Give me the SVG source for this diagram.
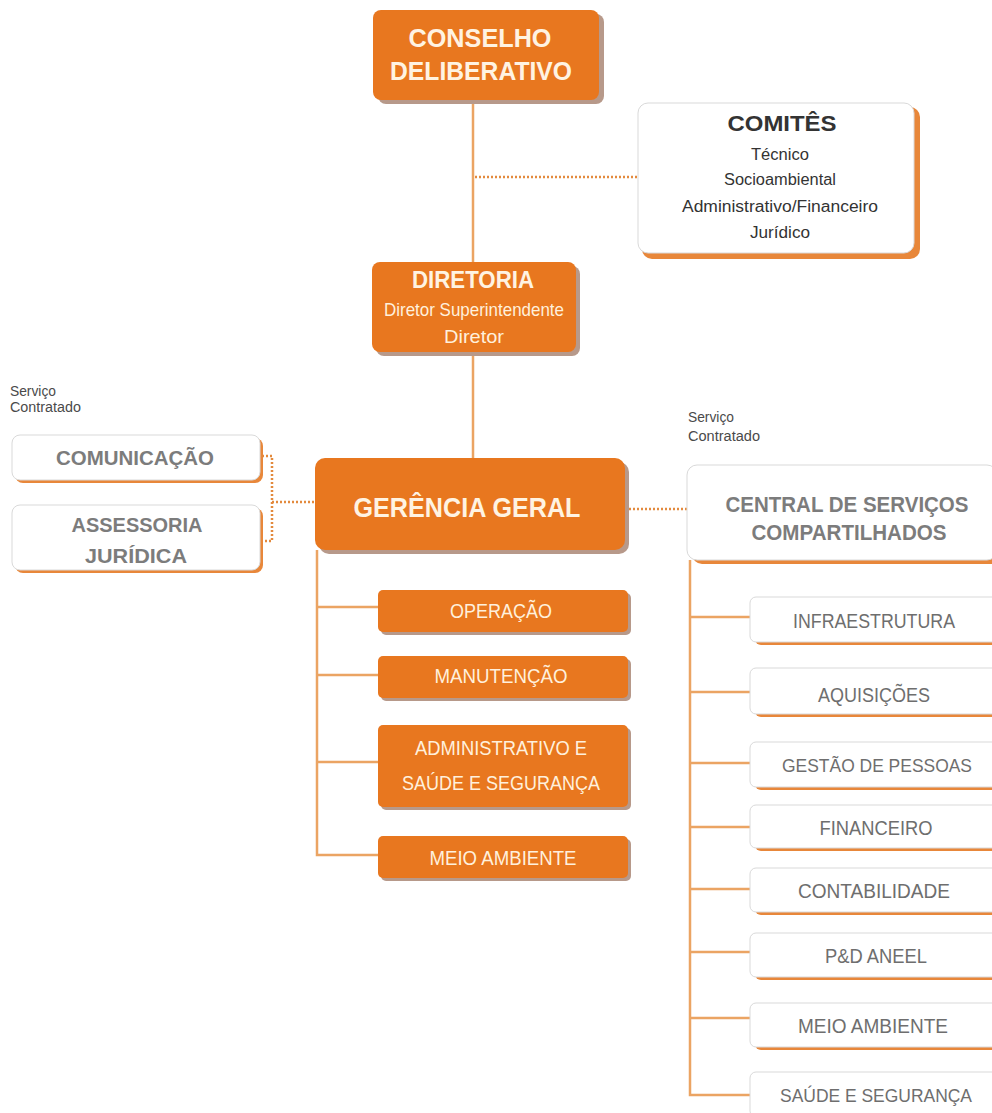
<svg xmlns="http://www.w3.org/2000/svg" width="992" height="1113" viewBox="0 0 992 1113">
<style>
.ob{fill:#E8771F}
.os{fill:#B7998A}
.wb{fill:#FFFFFF;stroke:#D9D9D9;stroke-width:1}
.ws{fill:#E8873A}
.ln{stroke:#EBA463;stroke-width:2.5;fill:none}
.dt{stroke:#E38A3E;stroke-width:2.5;fill:none;stroke-dasharray:2 2}
text{font-family:"Liberation Sans",Arial,sans-serif;text-anchor:middle}
.tw{fill:#FFF3E2;font-weight:bold}
.tc{fill:#FFF0DC}
.tg{fill:#7C7C7C;font-weight:bold}
.tn{fill:#6E6E6E}
.tk{fill:#333333}
.lb{fill:#4A4A4A;text-anchor:start;font-size:14px}
</style>
<rect width="992" height="1113" fill="#FFFFFF"/>
<g id="connectors">
<line class="ln" x1="473" y1="100" x2="473" y2="262"/>
<line class="dt" x1="475" y1="177" x2="638" y2="177"/>
<line class="ln" x1="473" y1="352" x2="473" y2="458"/>
<polyline class="ln" points="317,550 317,855 378,855"/>
<line class="ln" x1="317" y1="607" x2="378" y2="607"/>
<line class="ln" x1="317" y1="675" x2="378" y2="675"/>
<line class="ln" x1="317" y1="762" x2="378" y2="762"/>
<polyline class="dt" points="262,456 272,456 272,541 262,541"/>
<line class="dt" x1="272" y1="502" x2="315" y2="502"/>
<line class="dt" x1="625" y1="509" x2="687" y2="509"/>
<polyline class="ln" points="690,560 690,1095 750,1095"/>
<line class="ln" x1="690" y1="617" x2="750" y2="617"/>
<line class="ln" x1="690" y1="692" x2="750" y2="692"/>
<line class="ln" x1="690" y1="763" x2="750" y2="763"/>
<line class="ln" x1="690" y1="827" x2="750" y2="827"/>
<line class="ln" x1="690" y1="889" x2="750" y2="889"/>
<line class="ln" x1="690" y1="952" x2="750" y2="952"/>
<line class="ln" x1="690" y1="1018" x2="750" y2="1018"/>
</g>
<g id="conselho">
<rect class="os" x="378" y="14" width="226" height="90" rx="8"/>
<rect class="ob" x="373" y="10" width="226" height="90" rx="8"/>
<text class="tw" x="480" y="47" font-size="25" textLength="143" lengthAdjust="spacingAndGlyphs">CONSELHO</text>
<text class="tw" x="481" y="80" font-size="25" textLength="182" lengthAdjust="spacingAndGlyphs">DELIBERATIVO</text>
</g>
<g id="comites">
<rect class="ws" x="642" y="107" width="278" height="152" rx="10"/>
<rect class="wb" x="638" y="103" width="276" height="150" rx="10"/>
<text class="tk" x="782" y="131" font-size="22" font-weight="bold" textLength="109" lengthAdjust="spacingAndGlyphs">COMITÊS</text>
<text class="tk" x="780" y="160" font-size="16" textLength="58" lengthAdjust="spacingAndGlyphs">Técnico</text>
<text class="tk" x="780" y="185" font-size="16" textLength="112" lengthAdjust="spacingAndGlyphs">Socioambiental</text>
<text class="tk" x="780" y="212" font-size="16" textLength="196" lengthAdjust="spacingAndGlyphs">Administrativo/Financeiro</text>
<text class="tk" x="780" y="238" font-size="16" textLength="60" lengthAdjust="spacingAndGlyphs">Jurídico</text>
</g>
<g id="diretoria">
<rect class="os" x="376" y="266" width="204" height="90" rx="8"/>
<rect class="ob" x="372" y="262" width="204" height="90" rx="8"/>
<text class="tw" x="473" y="288" font-size="23" textLength="122" lengthAdjust="spacingAndGlyphs">DIRETORIA</text>
<text class="tc" x="474" y="316" font-size="19" textLength="180" lengthAdjust="spacingAndGlyphs">Diretor Superintendente</text>
<text class="tc" x="474" y="343" font-size="19" textLength="60" lengthAdjust="spacingAndGlyphs">Diretor</text>
</g>
<g id="gerencia">
<rect class="os" x="319" y="462" width="310" height="92" rx="10"/>
<rect class="ob" x="315" y="458" width="310" height="92" rx="10"/>
<text class="tw" x="467" y="517" font-size="28" textLength="227" lengthAdjust="spacingAndGlyphs">GERÊNCIA GERAL</text>
</g>
<g id="operacao">
<rect class="os" x="381" y="593" width="250" height="42" rx="5"/>
<rect class="ob" x="378" y="590" width="250" height="42" rx="5"/>
<text class="tc" x="501" y="618" font-size="20" textLength="102" lengthAdjust="spacingAndGlyphs">OPERAÇÃO</text>
</g>
<g id="manutencao">
<rect class="os" x="381" y="659" width="250" height="42" rx="5"/>
<rect class="ob" x="378" y="656" width="250" height="42" rx="5"/>
<text class="tc" x="501" y="683" font-size="20" textLength="133" lengthAdjust="spacingAndGlyphs">MANUTENÇÃO</text>
</g>
<g id="administrativo">
<rect class="os" x="381" y="728" width="250" height="82" rx="5"/>
<rect class="ob" x="378" y="725" width="250" height="82" rx="5"/>
<text class="tc" x="501" y="755" font-size="20" textLength="172" lengthAdjust="spacingAndGlyphs">ADMINISTRATIVO E</text>
<text class="tc" x="501" y="790" font-size="20" textLength="198" lengthAdjust="spacingAndGlyphs">SAÚDE E SEGURANÇA</text>
</g>
<g id="meio-ambiente-ger">
<rect class="os" x="381" y="839" width="250" height="42" rx="5"/>
<rect class="ob" x="378" y="836" width="250" height="42" rx="5"/>
<text class="tc" x="503" y="865" font-size="20" textLength="147" lengthAdjust="spacingAndGlyphs">MEIO AMBIENTE</text>
</g>
<g id="servico-esq">
<text class="lb" x="10" y="396" textLength="46" lengthAdjust="spacingAndGlyphs">Serviço</text>
<text class="lb" x="10" y="412" textLength="71" lengthAdjust="spacingAndGlyphs">Contratado</text>
</g>
<g id="comunicacao">
<rect class="ws" x="15" y="438" width="248" height="45" rx="8"/>
<rect class="wb" x="12" y="435" width="248" height="45" rx="8"/>
<text class="tg" x="135" y="465" font-size="21" textLength="158" lengthAdjust="spacingAndGlyphs">COMUNICAÇÃO</text>
</g>
<g id="assessoria">
<rect class="ws" x="15" y="508" width="248" height="65" rx="8"/>
<rect class="wb" x="12" y="505" width="248" height="65" rx="8"/>
<text class="tg" x="137" y="532" font-size="21" textLength="131" lengthAdjust="spacingAndGlyphs">ASSESSORIA</text>
<text class="tg" x="136" y="563" font-size="21" textLength="102" lengthAdjust="spacingAndGlyphs">JURÍDICA</text>
</g>
<g id="servico-dir">
<text class="lb" x="688" y="422" textLength="46" lengthAdjust="spacingAndGlyphs">Serviço</text>
<text class="lb" x="688" y="441" textLength="72" lengthAdjust="spacingAndGlyphs">Contratado</text>
</g>
<g id="central">
<rect class="ws" x="692" y="469" width="310" height="95" rx="10"/>
<rect class="wb" x="687" y="465" width="310" height="95" rx="10"/>
<text class="tg" x="847" y="512" font-size="22" textLength="243" lengthAdjust="spacingAndGlyphs">CENTRAL DE SERVIÇOS</text>
<text class="tg" x="849" y="540" font-size="22" textLength="195" lengthAdjust="spacingAndGlyphs">COMPARTILHADOS</text>
</g>
<g id="infraestrutura">
<rect class="ws" x="755" y="600" width="245" height="45" rx="6"/>
<rect class="wb" x="750" y="597" width="248" height="45" rx="6"/>
<text class="tn" x="874" y="628" font-size="20" textLength="162" lengthAdjust="spacingAndGlyphs">INFRAESTRUTURA</text>
</g>
<g id="aquisicoes">
<rect class="ws" x="755" y="671" width="245" height="46" rx="6"/>
<rect class="wb" x="750" y="668" width="248" height="46" rx="6"/>
<text class="tn" x="874" y="702" font-size="20" textLength="112" lengthAdjust="spacingAndGlyphs">AQUISIÇÕES</text>
</g>
<g id="gestao-pessoas">
<rect class="ws" x="755" y="745" width="245" height="45" rx="6"/>
<rect class="wb" x="750" y="742" width="248" height="45" rx="6"/>
<text class="tn" x="877" y="772" font-size="18" textLength="190" lengthAdjust="spacingAndGlyphs">GESTÃO DE PESSOAS</text>
</g>
<g id="financeiro">
<rect class="ws" x="755" y="808" width="245" height="43" rx="6"/>
<rect class="wb" x="750" y="805" width="248" height="43" rx="6"/>
<text class="tn" x="876" y="835" font-size="20" textLength="113" lengthAdjust="spacingAndGlyphs">FINANCEIRO</text>
</g>
<g id="contabilidade">
<rect class="ws" x="755" y="871" width="245" height="44" rx="6"/>
<rect class="wb" x="750" y="868" width="248" height="44" rx="6"/>
<text class="tn" x="874" y="898" font-size="20" textLength="152" lengthAdjust="spacingAndGlyphs">CONTABILIDADE</text>
</g>
<g id="ped-aneel">
<rect class="ws" x="755" y="936" width="245" height="44" rx="6"/>
<rect class="wb" x="750" y="933" width="248" height="44" rx="6"/>
<text class="tn" x="876" y="963" font-size="20" textLength="102" lengthAdjust="spacingAndGlyphs">P&amp;D ANEEL</text>
</g>
<g id="meio-ambiente-csc">
<rect class="ws" x="755" y="1006" width="245" height="44" rx="6"/>
<rect class="wb" x="750" y="1003" width="248" height="44" rx="6"/>
<text class="tn" x="873" y="1033" font-size="20" textLength="150" lengthAdjust="spacingAndGlyphs">MEIO AMBIENTE</text>
</g>
<g id="saude-seguranca">
<rect class="ws" x="755" y="1075" width="245" height="45" rx="6"/>
<rect class="wb" x="750" y="1072" width="248" height="45" rx="6"/>
<text class="tn" x="876" y="1102" font-size="18" textLength="192" lengthAdjust="spacingAndGlyphs">SAÚDE E SEGURANÇA</text>
</g>
</svg>
